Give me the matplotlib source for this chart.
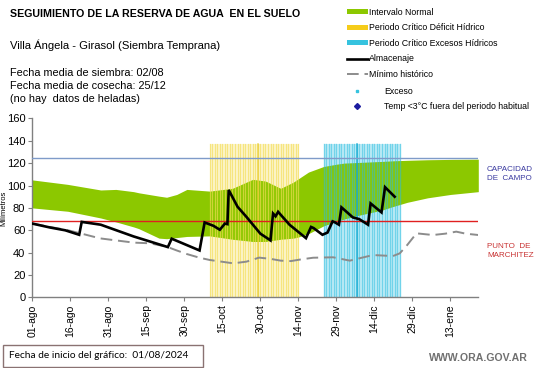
import matplotlib
matplotlib.use("Agg")
import matplotlib.pyplot as plt
import numpy as np
from matplotlib.lines import Line2D
from matplotlib.patches import Patch, Rectangle

plt.rcParams['font.family'] = ['Liberation Sans', 'DejaVu Sans']

# ---- data (day offset from 01/08/2024) ----
tick_days = [0, 15, 30, 45, 60, 75, 90, 105, 120, 135, 150, 165]
tick_labels = ['01-ago', '16-ago', '31-ago', '15-sep', '30-sep', '15-oct',
               '30-oct', '14-nov', '29-nov', '14-dic', '29-dic', '13-ene']

band_days = [0, 14, 27, 33, 40, 42, 50, 53, 57, 61, 70, 79, 87, 92, 98, 103,
             105, 109, 115, 120, 123, 128, 138, 142, 148, 156, 165, 176]
band_upper = [105, 101, 96, 96.5, 94.5, 93.5, 90.5, 89.5, 92, 96.5, 95, 97.5, 105.5, 104,
              97.5, 103, 106, 112, 117, 119, 120, 120.5, 121.5, 122, 122.5, 123, 123.3, 123.5]
band_lower = [80, 77, 71, 67.5, 63, 61.5, 53, 52.5, 53.5, 54.5, 55, 52, 50, 50,
              52, 53, 54, 57, 64, 68, 70, 73, 78, 81, 85, 89, 92, 94.5]

min_days = [0, 7, 13.6, 20, 26.7, 33, 40, 46.4, 53, 57, 61, 66, 70, 79.3, 84.5, 89.5,
            94, 98, 102, 106, 110.8, 118.7, 125.3, 130, 134.5, 142.3, 145, 148, 151.6,
            155, 158.1, 163, 167.3, 171, 176]
min_hist = [66, 63, 60.3, 56.7, 52.8, 51, 49, 48.4, 45.4, 42, 38.8, 35.5, 33.5, 30.5, 32,
            35.6, 34.5, 32.9, 32.5, 34, 35.5, 35.9, 32.9, 35.5, 37.9, 37, 39.4, 47, 57.3,
            56.5, 55.8, 57, 58.8, 57, 55.8]

alm_days = [0, 7, 13, 18.5, 19.5, 27, 40, 45, 53.5, 55, 66, 68, 71.5, 74, 76, 77, 77.5,
            81, 84.5, 90, 94, 95, 96, 97, 101.5, 108, 110, 111, 114.5, 116.5, 118.5, 119.5,
            121, 122, 126.5, 129, 132.5, 133.5, 137.8, 139.2, 143]
almacenaje = [66, 62.5, 60, 56, 67.5, 65, 54.5, 51, 45, 52.5, 42, 67, 64, 60.5, 66, 65.5,
              96, 81, 72, 57, 51, 75, 72.5, 76.5, 65, 53, 63, 62, 56, 58, 68, 67,
              65, 80.5, 71.5, 70, 65, 84, 76, 98.5, 90]

capacidad_campo = 125
punto_marchitez = 68
deficit_period = (70, 105)
exceso_period = (115, 145)
period_top = 137

fig = plt.figure(figsize=(5.41, 3.68), dpi=100)
ax = fig.add_axes([0.0597, 0.1916, 0.8244, 0.4869])
ax.set_xlim(0, 176)
ax.set_ylim(0, 160)

# green band
ax.fill_between(band_days, band_lower, band_upper, color='#8cc800', lw=0, zorder=1)

# critical periods as daily stripes
ys = period_top / 160.0
d0, d1 = deficit_period
ax.axvspan(d0, d1 + 0.4, ymax=ys, color='#fcf6cf', lw=0, zorder=0.5)
for d in np.arange(d0, d1 + 1):
    ax.axvline(d, ymax=ys, color='#f3dd55', lw=0.9, alpha=0.65, zorder=2)
ax.axvline(89, ymax=ys, color='#e8cc30', lw=1.1, alpha=0.8, zorder=2)
e0, e1 = exceso_period
ax.axvspan(e0, e1 + 0.4, ymax=ys, color='#c6eef7', lw=0, zorder=0.5)
for d in np.arange(e0, e1 + 1):
    ax.axvline(d, ymax=ys, color='#2cbde0', lw=1.0, alpha=0.55, zorder=2)
ax.axvline(128, ymax=ys, color='#10a8d0', lw=1.1, alpha=0.85, zorder=2)

# reference lines
ax.axhline(capacidad_campo, color='#7f9bc9', lw=1.0, zorder=3)
ax.axhline(punto_marchitez, color='#e02020', lw=1.0, zorder=3)

# minimum historic
ax.plot(min_days, min_hist, color='#8c8c8c', lw=1.4, dashes=(6, 3), zorder=4)
# almacenaje
ax.plot(alm_days, almacenaje, color='black', lw=1.9, zorder=5, solid_joinstyle='miter')

for s in ['top', 'right']:
    ax.spines[s].set_visible(False)
for s in ['left', 'bottom']:
    ax.spines[s].set_color('#808080')
    ax.spines[s].set_linewidth(1.0)
ax.set_yticks(np.arange(0, 161, 20))
ax.set_xticks(tick_days)
ax.set_xticklabels(tick_labels, rotation=90, fontsize=7.5)
ax.tick_params(axis='y', labelsize=8, length=3, color='#808080', pad=2)
ax.tick_params(axis='x', length=3, color='#808080', pad=2)
ax.set_ylabel('Milímetros', fontsize=5.5)
ax.yaxis.set_label_coords(-0.056, 0.5)

# texts
fig.text(10/541, 1-14/368, 'SEGUIMIENTO DE LA RESERVA DE AGUA  EN EL SUELO', fontsize=7.7,
         fontweight='bold', va='center', ha='left')
fig.text(10/541, 1-45/368, 'Villa Ángela - Girasol (Siembra Temprana)', fontsize=8.1,
         va='center', ha='left')
fig.text(10/541, 1-86/368, 'Fecha media de siembra: 02/08\nFecha media de cosecha: 25/12\n(no hay  datos de heladas)',
         fontsize=7.8, va='center', ha='left', linespacing=1.4)
fig.text(487/541, 1-174/368, 'CAPACIDAD\nDE  CAMPO', fontsize=5.8, color='#3a3aa0',
         va='center', ha='left', linespacing=1.25)
fig.text(487/541, 1-251/368, 'PUNTO  DE\nMARCHITEZ', fontsize=5.8, color='#c83232',
         va='center', ha='left', linespacing=1.25)

# legend
h1 = [Patch(facecolor='#8cc800', edgecolor='none'),
      Patch(facecolor='#f5cc1a', edgecolor='none'),
      Patch(facecolor='#36c3df', edgecolor='none'),
      Line2D([], [], color='black', lw=1.9),
      Line2D([], [], color='#8c8c8c', lw=1.4, dashes=(6, 3))]
l1 = ['Intervalo Normal', 'Periodo Crítico Déficit Hídrico', 'Periodo Crítico Excesos Hídricos',
      'Almacenaje', 'Mínimo histórico']
leg1 = fig.legend(h1, l1, loc='upper left', bbox_to_anchor=(345/541, 1-6/368), frameon=False,
                  fontsize=6.3, handlelength=2.4, handleheight=0.5, handletextpad=0.15,
                  labelspacing=0.75, borderpad=0.2, borderaxespad=0)
h2 = [Line2D([], [], color='#36c3df', marker='s', ms=2, lw=0),
      Line2D([], [], color='#1c1ca0', marker='D', ms=3, lw=0)]
l2 = ['Exceso', 'Temp <3°C fuera del periodo habitual']
leg2 = fig.legend(h2, l2, loc='upper left', bbox_to_anchor=(345/541, 1-85/368), frameon=False,
                  fontsize=6.3, handlelength=2.4, handletextpad=1.9, numpoints=1,
                  labelspacing=0.75, borderpad=0.2, borderaxespad=0)

# bottom box
fig.patches.append(Rectangle((3/541, 1-367/368), 200/541, 22/368, transform=fig.transFigure,
                             facecolor='white', edgecolor='#8a7272', lw=1.0))
fig.text(9/541, 1-356/368, 'Fecha de inicio del gráfico:  01/08/2024', fontsize=7.3,
         family=['Lato', 'DejaVu Sans'], va='center', ha='left')
fig.text(528/541, 1-358/368, 'WWW.ORA.GOV.AR', fontsize=7.6, color='#707070',
         fontweight='bold', va='center', ha='right')

fig.savefig('out.png', dpi=100)
